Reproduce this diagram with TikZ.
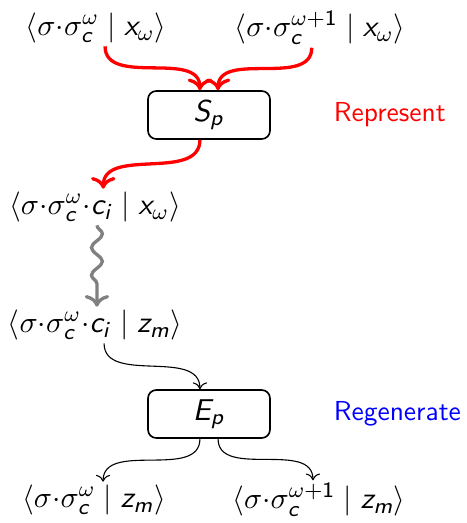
\documentclass[tikz,border=0pt]{standalone}
\usepackage{amsmath}
\usepackage{tikz}
\usetikzlibrary{arrows.meta, positioning, decorations.pathmorphing}

\DeclareSymbolFont{sfletters}{OT1}{cmss}{m}{sl}
\SetSymbolFont{operators}{normal}{OT1}{cmss}{m}{n}
\DeclareMathSymbol{c}{\mathalpha}{sfletters}{`c}
\DeclareMathSymbol{i}{\mathalpha}{sfletters}{`i}
\DeclareMathSymbol{m}{\mathalpha}{sfletters}{`m}
\DeclareMathSymbol{p}{\mathalpha}{sfletters}{`p}
\DeclareMathSymbol{x}{\mathalpha}{sfletters}{`x}
\DeclareMathSymbol{z}{\mathalpha}{sfletters}{`z}
\DeclareMathSymbol{S}{\mathalpha}{sfletters}{`S}
\DeclareMathSymbol{E}{\mathalpha}{sfletters}{`E}

\newcommand{\dt}{{\cdot}}

\begin{document}
\begin{tikzpicture}[
    x=0.364pt, y=-0.364pt,
    font=\sffamily,
    term/.style={inner sep=1pt, font=\fontsize{10.9pt}{13pt}\selectfont},
    box/.style={
        rectangle,
        rounded corners=3pt,
        draw,
        semithick,
        minimum width=44.4pt,
        minimum height=15.6pt,
        font=\fontsize{10.9pt}{13pt}\selectfont
    },
    stage/.style={inner sep=0pt},
    redarrow/.style={->, very thick, red},
    thinarrow/.style={->, thin},
    wavy/.style={->, very thick, gray, decorate,
        decoration={snake, amplitude=2pt, segment length=10pt, post length=2.5mm}}
]
\useasboundingbox (0,0) rectangle (466,523);

\node[term] (in1) at (96,28) {$\langle\sigma\dt\sigma_c^\omega \mid x_\omega\rangle$};
\node[term] (in2) at (320,28) {$\langle\sigma\dt\sigma_c^{\omega+1} \mid x_\omega\rangle$};

\node[box] (sp) at (209,115) {$S_p$};
\node[stage, red, right=8mm of sp] (represent) {Represent};

\node[term] (rep) at (95,207) {$\langle\sigma\dt\sigma_c^\omega\dt c_i \mid x_\omega\rangle$};
\node[term] (latent) at (95,325) {$\langle\sigma\dt\sigma_c^\omega\dt c_i \mid z_m\rangle$};

\node[box] (ep) at (209,414) {$E_p$};
\node[stage, blue, right=8mm of ep] (regenerate) {Regenerate};

\node[term] (out1) at (94,500) {$\langle\sigma\dt\sigma_c^\omega \mid z_m\rangle$};
\node[term] (out2) at (319,500) {$\langle\sigma\dt\sigma_c^{\omega+1} \mid z_m\rangle$};

\draw[redarrow] ([xshift=3.3pt]in1.south) to[out=-90, in=90] ([xshift=-3.3pt]sp.north);
\draw[redarrow] ([xshift=-3pt]in2.south) to[out=-90, in=90] ([xshift=3.3pt]sp.north);
\draw[redarrow] ([xshift=-3.3pt]sp.south) to[out=-90, in=90] ([xshift=3pt]rep.north);
\draw[wavy] ([xshift=0.7pt]rep.south) -- ([xshift=0.7pt]latent.north);
\draw[thinarrow] ([xshift=3.3pt]latent.south) to[out=-90, in=90] ([xshift=-3.3pt]ep.north);
\draw[thinarrow] ([xshift=-3.3pt]ep.south) to[out=-90, in=90] ([xshift=3.3pt]out1.north);
\draw[thinarrow] ([xshift=3.3pt]ep.south) to[out=-90, in=90] ([xshift=-2.2pt]out2.north);

\end{tikzpicture}
\end{document}
